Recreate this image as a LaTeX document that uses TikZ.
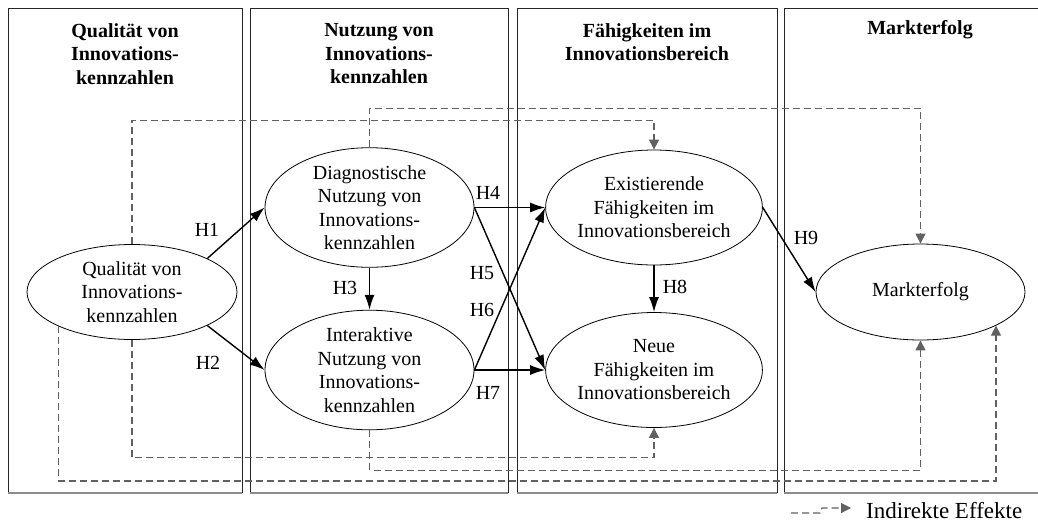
\documentclass[tikz,border=0pt]{standalone}
\usepackage{fontspec}
\setmainfont{Liberation Serif}
\usetikzlibrary{shapes.geometric,arrows.meta,calc}

\tikzset{
  panel/.style={draw=black!85, line width=0.9pt},
  panelfoot/.style={draw=black!45, line width=1.6pt},
  head/.style={font=\fontsize{20}{23.5}\selectfont\bfseries, align=center, inner sep=0pt},
  construct/.style={ellipse, draw=black, line width=0.8pt, minimum width=209pt,
    minimum height=115pt, inner sep=0pt, align=center,
    font=\fontsize{20}{23.5}\selectfont},
  hlabel/.style={font=\fontsize{20}{23.5}\selectfont, inner sep=0pt},
  legendtext/.style={font=\fontsize{23}{27}\selectfont, inner sep=0pt},
  direct/.style={draw=black, line width=1.4pt, -{Latex[length=15pt,width=10pt]}},
  indirect/.style={draw=black!62, line width=1.1pt, dash pattern=on 7pt off 4pt,
    -{Triangle[length=10pt,width=10pt]}}
}

\begin{document}
\begin{tikzpicture}[x=1pt,y=-1pt]
\useasboundingbox (0,0) rectangle (1038,523);

% column frames
\draw[panel] (8,493) -- (8,8) -- (242,8) -- (242,493);
\draw[panel] (250,493) -- (250,8) -- (508,8) -- (508,493);
\draw[panel] (517,493) -- (517,8) -- (777,8) -- (777,493);
\draw[panel] (784,493) -- (784,8) -- (1038,8);
\draw[panelfoot] (8,493) -- (242,493);
\draw[panelfoot] (250,493) -- (508,493);
\draw[panelfoot] (517,493) -- (777,493);
\draw[panelfoot] (784,493) -- (1038,493);

% column headings
\node[head] (t1) at (125,54) {Qualität von\\Innovations-\\kennzahlen};
\node[head] (t2) at (379,54) {Nutzung von\\Innovations-\\kennzahlen};
\node[head] (t3) at (647,42) {Fähigkeiten im\\Innovationsbereich};
\node[head] (t4) at (920,30) {Markterfolg};

% constructs
\node[construct, minimum width=210pt, minimum height=95pt] (q) at (132,292)
  {Qualität von\\Innovations-\\kennzahlen};
\node[construct] (dn) at (369.5,207.5)
  {Diagnostische\\Nutzung von\\Innovations-\\kennzahlen};
\node[construct] (in) at (369.5,370)
  {Interaktive\\Nutzung von\\Innovations-\\kennzahlen};
\node[construct] (ex) at (654,207.5)
  {Existierende\\Fähigkeiten im\\Innovationsbereich};
\node[construct] (ne) at (654,370)
  {Neue\\Fähigkeiten im\\Innovationsbereich};
\node[construct, minimum height=96pt] (mk) at (920.5,292) {Markterfolg};

% indirect effects
\draw[indirect] (q.north) -- ++(0,-124) -| (ex.north);
\draw[indirect] (dn.north) -- ++(0,-39) -| (mk.north);
\draw[indirect] (q.south) -- ++(0,118) -| (ne.south);
\draw[indirect] (in.south) -- ++(0,40) -| (mk.south);
\draw[indirect] (q.205) -- (q.205 |- 0,481) -| (mk.-24);

% direct effects
\draw[direct] (q.24) -- (dn.west);
\draw[direct] (q.-24) -- (in.west);
\draw[direct] (dn.south) -- (in.north);
\draw[direct] (dn.east) -- (ex.west);
\draw[direct] (dn.east) -- (ne.west);
\draw[direct] (in.east) -- (ex.west);
\draw[direct] (in.east) -- (ne.west);
\draw[direct] (ex.south) -- (ne.north);
\draw[direct] (ex.east) -- (mk.west);

% hypothesis labels
\node[hlabel] (h1) at (207,230) {H1};
\node[hlabel] (h2) at (208,363) {H2};
\node[hlabel] (h3) at (345,288) {H3};
\node[hlabel] (h4) at (488,193) {H4};
\node[hlabel] (h5) at (482,273) {H5};
\node[hlabel] (h6) at (482,310) {H6};
\node[hlabel] (h7) at (488,393) {H7};
\node[hlabel] (h8) at (675,287) {H8};
\node[hlabel] (h9) at (806,238) {H9};

% legend
\coordinate (l0) at (791,513);
\draw[indirect] (l0) -- ++(29,0) -- ++(2,-5) -- ++(29,0);
\node[legendtext, anchor=base west] (lt) at (866,518) {Indirekte Effekte};
\end{tikzpicture}
\end{document}
